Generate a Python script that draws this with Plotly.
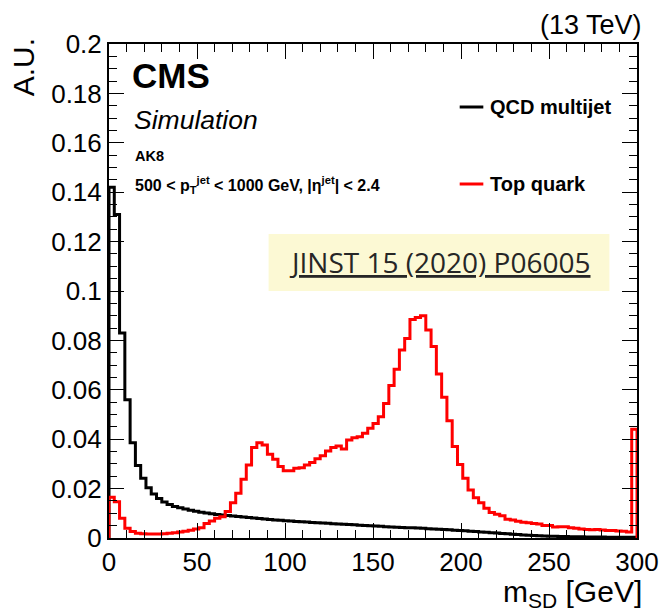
import plotly.graph_objects as go

# ---------------- data ----------------
bin_width = 3.0
x_range = [0, 300]
y_range = [0, 0.2]
x_ticks = [0, 50, 100, 150, 200, 250, 300]
y_ticks = [0, 0.02, 0.04, 0.06, 0.08, 0.1, 0.12, 0.14, 0.16, 0.18, 0.2]

qcd_multijet = [
    0.142, 0.131, 0.083, 0.056, 0.0386, 0.0294, 0.0242, 0.0203, 0.0178, 0.0160,
    0.0146, 0.0136, 0.0128, 0.0122, 0.0117, 0.0112, 0.0108, 0.0104, 0.0101, 0.0098,
    0.0095, 0.0093, 0.0091, 0.0089, 0.0087, 0.0085, 0.0083, 0.0081, 0.0079, 0.0077,
    0.0075, 0.0073, 0.0072, 0.0070, 0.0069, 0.0067, 0.0066, 0.0065, 0.0063, 0.0062,
    0.0061, 0.0060, 0.0058, 0.0057, 0.0056, 0.0055, 0.0054, 0.0052, 0.0051, 0.0050,
    0.0049, 0.0048, 0.0046, 0.0045, 0.0044, 0.0043, 0.0042, 0.0041, 0.0040, 0.0039,
    0.0037, 0.0036, 0.0035, 0.0034, 0.0033, 0.0031, 0.0030, 0.0029, 0.0027, 0.0026,
    0.0024, 0.0023, 0.0021, 0.0020, 0.0018, 0.0017, 0.0015, 0.0014, 0.0012, 0.0011,
    0.0010, 0.0009, 0.0008, 0.0007, 0.0007, 0.0006, 0.0006, 0.0005, 0.0005, 0.0005,
    0.0004, 0.0004, 0.0004, 0.0004, 0.0003, 0.0003, 0.0003, 0.0003, 0.0003, 0.0003,
]

top_quark = [
    0.0165, 0.0147, 0.0080, 0.0039, 0.0026, 0.0019, 0.0017, 0.0016, 0.0016, 0.0016,
    0.0017, 0.0019, 0.0021, 0.0024, 0.0027, 0.0031, 0.0036, 0.0042, 0.0059, 0.0069,
    0.0080, 0.0086, 0.0107, 0.0143, 0.0181, 0.0238, 0.0296, 0.0366, 0.0386, 0.0377,
    0.0339, 0.0319, 0.0289, 0.0272, 0.0272, 0.0282, 0.0284, 0.0296, 0.0306, 0.0321,
    0.0333, 0.0352, 0.0366, 0.0372, 0.0360, 0.0397, 0.0406, 0.0410, 0.0424, 0.0444,
    0.0464, 0.0491, 0.0545, 0.0617, 0.0683, 0.0761, 0.0808, 0.0885, 0.0893, 0.0900,
    0.0842, 0.0775, 0.0664, 0.0570, 0.0475, 0.0370, 0.0298, 0.0242, 0.0194, 0.0163,
    0.0143, 0.0120, 0.0103, 0.0096, 0.0090, 0.0076, 0.0073, 0.0068, 0.0064, 0.0062,
    0.0059, 0.0057, 0.0051, 0.0051, 0.0045, 0.0046, 0.0046, 0.0042, 0.0039, 0.0036,
    0.0034, 0.0033, 0.0034, 0.0032, 0.0030, 0.0030, 0.0028, 0.0027, 0.0024, 0.044,
]

series_names = ["QCD multijet", "Top quark"]
series_colors = ["#000000", "#ff0000"]

# ---------------- figure ----------------
W, H = 671, 612
L, R, T, B = 109, 645, 44, 538  # plot area in pixels
FONT = "Liberation Sans, Arial, Helvetica, sans-serif"


def px(x):
    return (x - L) / (R - L)


def py(y):
    return (B - y) / (B - T)


def step_xy(values):
    edges = [x_range[0] + i * bin_width for i in range(len(values))]
    xs = [x_range[0]] + edges + [x_range[0] + len(values) * bin_width] * 2
    ys = [0] + list(values) + [values[-1], 0]
    return xs, ys


fig = go.Figure()
for vals, name, col in zip([qcd_multijet, top_quark], series_names, series_colors):
    xs, ys = step_xy(vals)
    fig.add_trace(go.Scatter(x=xs, y=ys, mode="lines", name=name,
                             line=dict(color=col, width=3, shape="hv"),
                             showlegend=False, cliponaxis=False))

axis_common = dict(
    showline=True, linecolor="black", linewidth=2, mirror="ticks",
    ticks="inside", ticklen=15, tickwidth=1.3, tickcolor="black",
    showgrid=False, zeroline=False,
    tickfont=dict(family=FONT, size=26, color="black"),
)
fig.update_xaxes(range=x_range, tickvals=x_ticks,
                 minor=dict(dtick=10, ticklen=8, tickwidth=1.3, tickcolor="black", ticks="inside"),
                 **axis_common)
fig.update_yaxes(range=y_range, tickvals=y_ticks,
                 minor=dict(dtick=0.005, ticklen=8, tickwidth=1.3, tickcolor="black", ticks="inside"),
                 **axis_common)

annotations = [
    dict(x=px(652), y=py(25), text="(13 TeV)", xanchor="right", yanchor="middle",
         font=dict(family=FONT, size=27, color="black")),
    dict(x=px(22), y=py(36), text="A.U.", textangle=-90, xanchor="center", yanchor="top",
         font=dict(family=FONT, size=30, color="black")),
    dict(x=px(652), y=py(593), text="m<sub>SD</sub> [GeV]", xanchor="right", yanchor="middle",
         font=dict(family=FONT, size=30, color="black")),
    dict(x=px(130), y=py(76), text="<b>CMS</b>", xanchor="left", yanchor="middle",
         font=dict(family=FONT, size=35, color="black")),
    dict(x=px(132), y=py(120), text="<i>Simulation</i>", xanchor="left", yanchor="middle",
         font=dict(family=FONT, size=26.5, color="black")),
    dict(x=px(133), y=py(156), text="<b>AK8</b>", xanchor="left", yanchor="middle",
         font=dict(family=FONT, size=14.5, color="black")),
    dict(x=px(133), y=py(185),
         text="<b>500 < p<sub>T</sub><sup>jet</sup> < 1000 GeV, |η<sup>jet</sup>| < 2.4</b>",
         xanchor="left", yanchor="middle",
         font=dict(family=FONT, size=16, color="black")),
    dict(x=px(494), y=py(107), text="<b>" + series_names[0] + "</b>", xanchor="left", yanchor="middle",
         font=dict(family=FONT, size=20, color="black")),
    dict(x=px(494), y=py(184), text="<b>" + series_names[1] + "</b>", xanchor="left", yanchor="middle",
         font=dict(family=FONT, size=20, color="black")),
    dict(x=px(444), y=py(262), text="<u>JINST 15 (2020) P06005</u>", xanchor="center", yanchor="middle",
         font=dict(family="Open Sans, Lato, sans-serif", size=28, color="#262626")),
]
for a in annotations:
    a.update(xref="paper", yref="paper", showarrow=False)

shapes = [
    dict(type="rect", xref="paper", yref="paper", x0=px(271), x1=px(617), y0=py(234), y1=py(291),
         fillcolor="#fcf9d4", line=dict(width=0), layer="below"),
    dict(type="line", xref="paper", yref="paper", x0=px(465), x1=px(489), y0=py(107), y1=py(107),
         line=dict(color=series_colors[0], width=3)),
    dict(type="line", xref="paper", yref="paper", x0=px(465), x1=px(489), y0=py(184), y1=py(184),
         line=dict(color=series_colors[1], width=3)),
]

fig.update_layout(
    width=W, height=H,
    margin=dict(l=L, r=W - R, t=T, b=H - B, pad=0),
    paper_bgcolor="white", plot_bgcolor="white",
    annotations=annotations, shapes=shapes,
    showlegend=False,
)

fig.write_html("out.html")
